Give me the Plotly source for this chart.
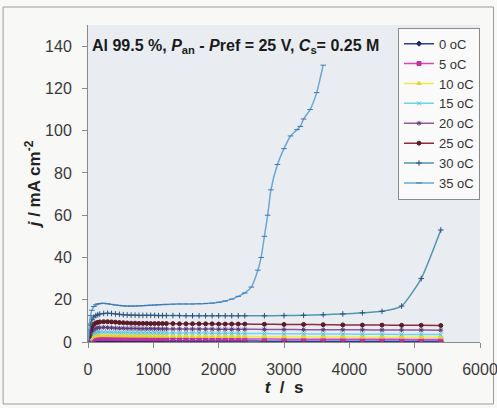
import plotly.graph_objects as go

# ---------------- data ----------------
series_names = ["0 oC", "5 oC", "10 oC", "15 oC", "20 oC", "25 oC", "30 oC", "35 oC"]

t_common = [0, 20, 40, 60, 90, 120, 150, 180,
            240, 300, 360, 420, 480, 540, 600, 660, 720, 780, 840, 900, 960, 1020, 1080, 1140, 1200,
            1300, 1400, 1500, 1600, 1700, 1800, 1900, 2000, 2100, 2200, 2300, 2400,
            2700, 3000, 3300, 3600, 3900, 4200, 4500, 4800, 5100, 5400]

j_0C = [0.0, 0.2, 0.35, 0.45, 0.5, 0.55, 0.55, 0.55,
        0.55, 0.55, 0.55, 0.55, 0.5, 0.5, 0.5, 0.5, 0.5, 0.5, 0.5, 0.5, 0.5, 0.5, 0.5, 0.5, 0.5,
        0.5, 0.5, 0.5, 0.45, 0.45, 0.45, 0.45, 0.45, 0.45, 0.45, 0.45, 0.45,
        0.4, 0.4, 0.4, 0.4, 0.4, 0.4, 0.4, 0.4, 0.4, 0.4]
j_5C = [0.0, 0.6, 1.0, 1.3, 1.5, 1.6, 1.7, 1.7,
        1.7, 1.7, 1.7, 1.65, 1.6, 1.6, 1.6, 1.6, 1.6, 1.6, 1.6, 1.55, 1.55, 1.55, 1.55, 1.55, 1.5,
        1.5, 1.5, 1.5, 1.5, 1.5, 1.5, 1.45, 1.45, 1.45, 1.45, 1.45, 1.4,
        1.4, 1.35, 1.35, 1.3, 1.3, 1.3, 1.25, 1.25, 1.2, 1.2]
j_10C = [0.0, 1.0, 1.8, 2.3, 2.7, 2.9, 3.0, 3.0,
         3.0, 3.0, 2.95, 2.9, 2.9, 2.85, 2.85, 2.8, 2.8, 2.8, 2.8, 2.8, 2.75, 2.75, 2.75, 2.75, 2.7,
         2.7, 2.7, 2.7, 2.65, 2.65, 2.65, 2.6, 2.6, 2.6, 2.6, 2.55, 2.55,
         2.5, 2.45, 2.4, 2.4, 2.35, 2.3, 2.3, 2.25, 2.2, 2.2]
j_15C = [0.0, 1.5, 2.7, 3.5, 4.1, 4.4, 4.6, 4.7,
         4.7, 4.7, 4.6, 4.6, 4.5, 4.5, 4.5, 4.4, 4.4, 4.4, 4.4, 4.4, 4.35, 4.35, 4.3, 4.3, 4.3,
         4.3, 4.25, 4.25, 4.2, 4.2, 4.2, 4.15, 4.15, 4.1, 4.1, 4.1, 4.05,
         4.0, 3.9, 3.85, 3.8, 3.75, 3.7, 3.65, 3.6, 3.55, 3.5]
j_20C = [0.0, 2.2, 3.9, 5.0, 5.9, 6.4, 6.7, 6.8,
         6.9, 6.8, 6.7, 6.6, 6.5, 6.5, 6.4, 6.4, 6.4, 6.3, 6.3, 6.3, 6.3, 6.25, 6.25, 6.2, 6.2,
         6.2, 6.2, 6.15, 6.15, 6.1, 6.1, 6.1, 6.05, 6.05, 6.0, 6.0, 6.0,
         5.95, 5.9, 5.85, 5.8, 5.8, 5.75, 5.7, 5.7, 5.65, 5.6]
j_25C = [0.0, 3.0, 5.5, 7.2, 8.4, 9.0, 9.3, 9.5,
         9.6, 9.6, 9.5, 9.4, 9.2, 9.1, 9.0, 8.9, 8.9, 8.8, 8.8, 8.8, 8.7, 8.7, 8.7, 8.7, 8.7,
         8.7, 8.6, 8.6, 8.6, 8.6, 8.6, 8.6, 8.5, 8.5, 8.5, 8.5, 8.5,
         8.4, 8.3, 8.3, 8.2, 8.1, 8.0, 8.0, 7.9, 7.9, 7.8]
j_30C = [0.0, 5.0, 8.5, 10.5, 11.8, 12.5, 12.9, 13.2,
         13.5, 13.6, 13.5, 13.3, 13.1, 12.9, 12.8, 12.7, 12.7, 12.6, 12.6, 12.6, 12.6, 12.6, 12.5, 12.5, 12.5,
         12.5, 12.5, 12.4, 12.4, 12.4, 12.4, 12.4, 12.4, 12.4, 12.4, 12.4, 12.4,
         12.4, 12.5, 12.6, 12.9, 13.3, 13.8, 14.5, 17.0, 30.0, 53.0]

t_35C = [0, 20, 40, 60, 90, 120, 150, 180,
         240, 300, 360, 420, 480, 540, 600, 660, 720, 780, 840, 900, 960, 1020, 1080, 1140, 1200,
         1300, 1400, 1500, 1600, 1700, 1800, 1900, 2000, 2100, 2200, 2300, 2400,
         2500, 2600, 2650, 2700, 2750, 2800, 2900, 3000, 3100, 3200, 3250, 3300, 3400, 3500, 3600]
j_35C = [0.5, 8.0, 12.5, 15.0, 16.8, 17.6, 18.0, 18.2,
         18.3, 18.1, 17.8, 17.5, 17.3, 17.1, 17.0, 17.0, 17.0, 17.1, 17.2, 17.3, 17.4, 17.5, 17.6, 17.7, 17.8,
         17.9, 18.0, 18.0, 18.0, 18.1, 18.2, 18.4, 18.8, 19.4, 20.3, 21.6, 23.2,
         26.0, 34.0, 40.0, 50.0, 60.0, 72.0, 84.0, 91.5, 97.5, 100.5, 102.0, 105.5, 110.0, 118.0, 131.0]

x_ticks = [0, 1000, 2000, 3000, 4000, 5000, 6000]
y_ticks = [0, 20, 40, 60, 80, 100, 120, 140]

# ---------------- styling ----------------
line_colors = ["#2a3f8f", "#d845b8", "#f2e84a", "#6fd6e6", "#8a5a9c", "#8f2a3a", "#4f97ad", "#6aa6d6"]
marker_colors = ["#1d2b6e", "#c0309e", "#e0d530", "#50c0d8", "#5e3a78", "#5a1a28", "#2e4f7a", "#3e78b0"]
symbols = ["diamond", "square", "triangle-up", "x-thin-open", "asterisk-open", "circle", "cross-thin-open", "line-ew-open"]

W, H = 497, 408
L, R, T, B = 88, 16.5, 25, 66
FONT = "Arial, 'Liberation Sans', sans-serif"

fig = go.Figure()
ys = [j_0C, j_5C, j_10C, j_15C, j_20C, j_25C, j_30C]
for i, name in enumerate(series_names):
    if name == "35 oC":
        x, y = t_35C, j_35C
    else:
        x, y = t_common, ys[i]
    fig.add_trace(go.Scatter(
        x=x, y=y, name=name, mode="lines+markers",
        line=dict(color=line_colors[i], width=1.5, shape="spline", smoothing=0.5),
        marker=dict(symbol=symbols[i], size=4, color=marker_colors[i],
                    line=dict(color=marker_colors[i], width=1)),
    ))

fig.add_annotation(
    xref="paper", yref="y", x=0.004, y=140, xanchor="left", yanchor="middle",
    text="<b>Al 99.5 %, <i>P</i><sub>an</sub> - <i>P</i>ref = 25 V, <i>C</i><sub>s</sub>= 0.25 M</b>",
    showarrow=False, font=dict(family=FONT, size=16, color="#1a1a1a"),
)

pw = W - L - R
ph = H - T - B
fig.add_shape(type="rect", xref="paper", yref="paper",
              x0=(3 - L) / pw, x1=(494 - L) / pw,
              y0=(H - B - 404) / ph, y1=(H - B - 7) / ph,
              line=dict(color="#9a9a9a", width=1), layer="below")

fig.update_layout(
    width=W, height=H,
    margin=dict(l=L, r=R, t=T, b=B, autoexpand=False),
    paper_bgcolor="#f8f8f7",
    plot_bgcolor="#e9edf2",
    font=dict(family=FONT, size=16, color="#3a3a3a"),
    showlegend=True,
    legend=dict(
        x=1.0, y=1 - 2.7 / ph, xanchor="right", yanchor="top",
        bgcolor="#fafafa", bordercolor="#8a8a8a", borderwidth=1,
        font=dict(family=FONT, size=13, color="#333333"),
        tracegroupgap=0, itemwidth=30,
    ),
    xaxis=dict(
        range=[0, 6000], tickvals=x_ticks, ticktext=[str(v) for v in x_ticks],
        showgrid=False, zeroline=False, showline=True, linecolor="#8a8a8a", linewidth=1,
        ticks="outside", ticklen=5, tickcolor="#8a8a8a", ticklabelstandoff=8,
        ticklabeloverflow="allow",
        tickfont=dict(family=FONT, size=16, color="#3a3a3a"),
        title=dict(text="<b><i>t</i>  /  s</b>", font=dict(family=FONT, size=17, color="#222222"), standoff=0),
        automargin=False,
    ),
    yaxis=dict(
        range=[0, 150], tickvals=y_ticks, ticktext=[str(v) for v in y_ticks],
        showgrid=False, zeroline=False, showline=True, linecolor="#8a8a8a", linewidth=1,
        ticks="outside", ticklen=5, tickcolor="#8a8a8a", ticklabelstandoff=7,
        tickfont=dict(family=FONT, size=16, color="#3a3a3a"),
        title=dict(text="<b><i>j</i> / mA cm<sup>-2</sup></b>", font=dict(family=FONT, size=17, color="#222222"), standoff=0),
        automargin=False,
    ),
)

fig.write_html("out.html")
